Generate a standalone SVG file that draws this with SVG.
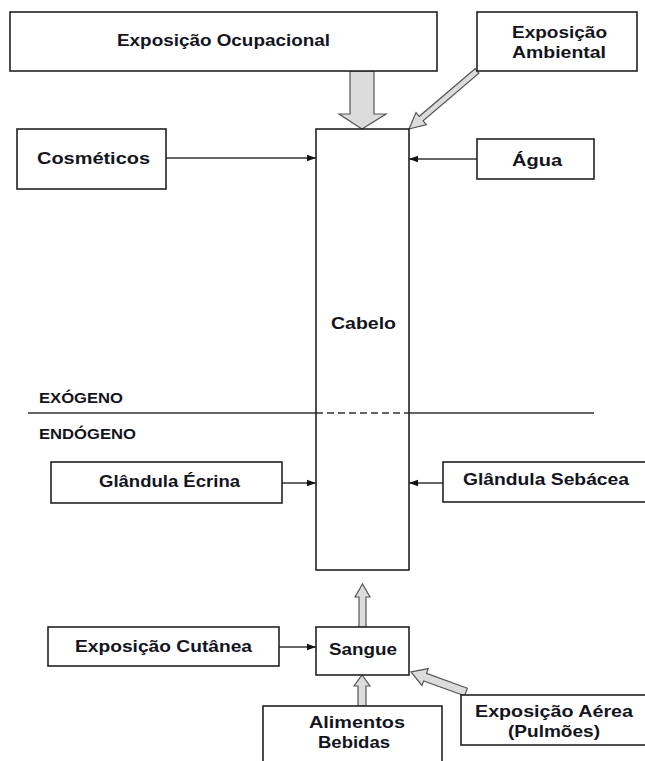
<svg xmlns="http://www.w3.org/2000/svg" width="645" height="761" viewBox="0 0 645 761">
<style>
.box{fill:#fff;stroke:#222;stroke-width:1.6}
.t{font-family:"Liberation Sans",Arial,sans-serif;font-weight:bold;font-size:17px;fill:#141420}
.s{font-size:15px}
.ln{stroke:#333;stroke-width:1.3;fill:none}
.blk{fill:#dcdcdc;stroke:#555;stroke-width:1.2;stroke-linejoin:miter}
</style>
<defs>
<marker id="ah" markerWidth="9" markerHeight="8" refX="9" refY="4" orient="auto" markerUnits="userSpaceOnUse">
<path d="M0,0.8 L9,4 L0,7.2 z" fill="#111"/>
</marker>
</defs>
<rect width="645" height="761" fill="#fff"/>
<g id="divider">
<line class="ln" x1="28" y1="413" x2="316" y2="413"/>
<line class="ln" x1="316" y1="413" x2="409" y2="413" stroke-dasharray="7 4"/>
<line class="ln" x1="409" y1="413" x2="594" y2="413"/>
<text class="t s" x="39" y="403" textLength="84" lengthAdjust="spacingAndGlyphs">EXÓGENO</text>
<text class="t s" x="39" y="439" textLength="97" lengthAdjust="spacingAndGlyphs">ENDÓGENO</text>
</g>
<g id="connectors">
<polygon class="blk" points="350,71 374,71 374,114 386,114 362,129 339,114 350,114"/>
<polygon class="blk" points="475.1,68.7 419.3,116.3 416,112.5 409,129 426.4,124.7 423.1,120.9 478.9,73.3"/>
<line class="ln" x1="166" y1="158" x2="316" y2="158" marker-end="url(#ah)"/>
<line class="ln" x1="477" y1="159" x2="409" y2="159" marker-end="url(#ah)"/>
<line class="ln" x1="282" y1="483" x2="316" y2="483" marker-end="url(#ah)"/>
<line class="ln" x1="443" y1="483" x2="409" y2="483" marker-end="url(#ah)"/>
<line class="ln" x1="279" y1="647" x2="316" y2="647" marker-end="url(#ah)"/>
<polygon class="blk" points="359,627 366,627 366,597 370,597 362.5,584 355,597 359,597"/>
<polygon class="blk" points="358,706 366,706 366,686 370,686 362,675 354,686 358,686"/>
<polygon class="blk" points="467.4,688.2 426.5,673.3 428.2,668.6 411,672 422,685.5 423.7,680.9 464.6,695.8"/>
</g>
<g id="ocupacional">
<rect class="box" x="10" y="12" width="427" height="59"/>
<text class="t" x="117" y="46" textLength="213" lengthAdjust="spacingAndGlyphs">Exposição Ocupacional</text>
</g>
<g id="ambiental">
<rect class="box" x="477" y="12" width="160" height="59"/>
<text class="t" x="512" y="38" textLength="95" lengthAdjust="spacingAndGlyphs">Exposição</text>
<text class="t" x="512" y="58" textLength="94" lengthAdjust="spacingAndGlyphs">Ambiental</text>
</g>
<g id="cosmeticos">
<rect class="box" x="17" y="129" width="149" height="60"/>
<text class="t" x="37" y="164" textLength="113" lengthAdjust="spacingAndGlyphs">Cosméticos</text>
</g>
<g id="agua">
<rect class="box" x="477" y="139" width="117" height="40"/>
<text class="t" x="512" y="166" textLength="50" lengthAdjust="spacingAndGlyphs">Água</text>
</g>
<g id="cabelo">
<rect class="box" x="316" y="129" width="93" height="441" fill="none" style="fill:none"/>
<text class="t" x="331" y="329" textLength="65" lengthAdjust="spacingAndGlyphs">Cabelo</text>
</g>
<g id="ecrina">
<rect class="box" x="51" y="462" width="231" height="41"/>
<text class="t" x="99" y="487" textLength="141" lengthAdjust="spacingAndGlyphs">Glândula Écrina</text>
</g>
<g id="sebacea">
<rect class="box" x="443" y="462" width="210" height="40"/>
<text class="t" x="463" y="485" textLength="166" lengthAdjust="spacingAndGlyphs">Glândula Sebácea</text>
</g>
<g id="cutanea">
<rect class="box" x="48" y="627" width="231" height="39"/>
<text class="t" x="75" y="652" textLength="177" lengthAdjust="spacingAndGlyphs">Exposição Cutânea</text>
</g>
<g id="sangue">
<rect class="box" x="316" y="627" width="93" height="48"/>
<text class="t" x="329" y="655" textLength="68" lengthAdjust="spacingAndGlyphs">Sangue</text>
</g>
<g id="alimentos">
<rect class="box" x="263" y="706" width="179" height="70"/>
<text class="t" x="309" y="728" textLength="96" lengthAdjust="spacingAndGlyphs">Alimentos</text>
<text class="t" x="318" y="748" textLength="72" lengthAdjust="spacingAndGlyphs">Bebidas</text>
</g>
<g id="aerea">
<rect class="box" x="461" y="695" width="195" height="50"/>
<text class="t" x="475" y="717" textLength="158" lengthAdjust="spacingAndGlyphs">Exposição Aérea</text>
<text class="t" x="508" y="737" textLength="92" lengthAdjust="spacingAndGlyphs">(Pulmões)</text>
</g>
</svg>
